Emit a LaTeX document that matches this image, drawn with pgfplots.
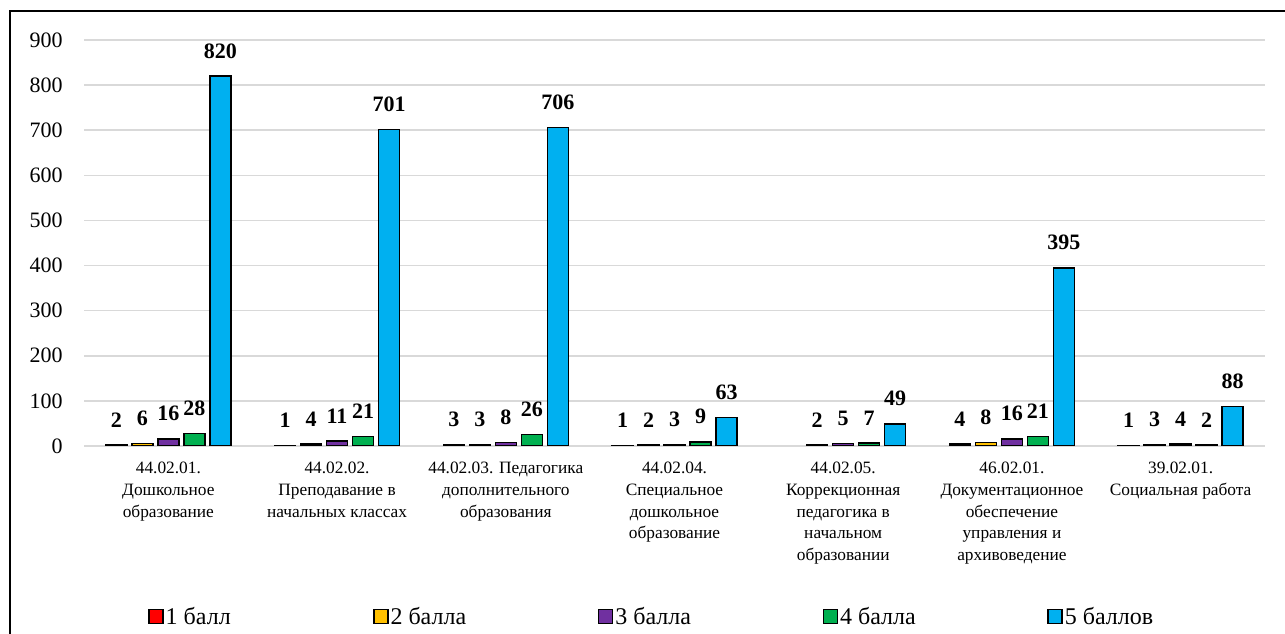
\documentclass[border=0pt]{standalone}
\usepackage{fontspec}
\setmainfont{Liberation Serif}
\usepackage{pgfplots}
\pgfplotsset{compat=1.18}
\definecolor{c1}{HTML}{FF0000}
\definecolor{c2}{HTML}{FFC000}
\definecolor{c3}{HTML}{7030A0}
\definecolor{c4}{HTML}{00B050}
\definecolor{c5}{HTML}{00B0F0}
\definecolor{gridgray}{HTML}{D9D9D9}

\begin{document}
\begin{tikzpicture}
\useasboundingbox (0,0) rectangle (963.75pt,475.5pt);
\draw[line width=1.5pt] (7.5pt,0) -- (7.5pt,467.25pt) -- (963.75pt,467.25pt);
\begin{axis}[
    at={(63pt,141pt)}, anchor=south west,
    scale only axis,
    width=885.75pt, height=304.5pt,
    ybar=3.75pt, bar width=15.75pt,
    xmin=-0.5, xmax=6.5, ymin=0, ymax=900,
    ytick={0,100,...,900},
    xtick={0,...,6},
    xticklabels={
        {44.02.01.\\Дошкольное\\образование},
        {44.02.02.\\Преподавание в\\начальных классах},
        {44.02.03. Педагогика\\дополнительного\\образования},
        {44.02.04.\\Специальное\\дошкольное\\образование},
        {44.02.05.\\Коррекционная\\педагогика в\\начальном\\образовании},
        {46.02.01.\\Документационное\\обеспечение\\управления и\\архивоведение},
        {39.02.01.\\Социальная работа}},
    xticklabel style={align=center, anchor=north, inner sep=0pt, yshift=-12pt,
        font=\fontsize{13}{16.3}\selectfont},
    yticklabel style={anchor=east, inner sep=0pt, xshift=-15.75pt,
        font=\fontsize{16.5}{18}\selectfont},
    /pgf/number format/assume math mode=true,
    major tick length=0pt,
    axis line style={draw=none},
    ymajorgrids,
    grid style={gridgray, line width=1.1pt},
    nodes near coords,
    every node near coord/.append style={font=\bfseries\fontsize{16.5}{18}\selectfont,
        inner sep=0pt, anchor=south, yshift=12.75pt},
    legend columns=5,
    legend style={at={(45pt,-128pt)}, anchor=west, draw=none, fill=none,
        font=\fontsize{18}{19}\selectfont,
        nodes={inner sep=1.5pt},
        /tikz/every even column/.append style={column sep=0pt}},
    legend image code/.code={\draw[#1, draw=black, line width=1.1pt] (0pt,-5.25pt) rectangle (10.5pt,5.25pt);},
]
\addplot[fill=c1, draw=black, line width=1.1pt] coordinates {(0,2) (1,1) (2,3) (3,1) (5,4) (6,1)};
\addlegendentry{\makebox[154pt][l]{1 балл}}
\addplot[fill=c2, draw=black, line width=1.1pt] coordinates {(0,6) (1,4) (2,3) (3,2) (4,2) (5,8) (6,3)};
\addlegendentry{\makebox[154pt][l]{2 балла}}
\addplot[fill=c3, draw=black, line width=1.1pt] coordinates {(0,16) (1,11) (2,8) (3,3) (4,5) (5,16) (6,4)};
\addlegendentry{\makebox[154pt][l]{3 балла}}
\addplot[fill=c4, draw=black, line width=1.1pt] coordinates {(0,28) (1,21) (2,26) (3,9) (4,7) (5,21) (6,2)};
\addlegendentry{\makebox[154pt][l]{4 балла}}
\addplot[fill=c5, draw=black, line width=1.1pt] coordinates {(0,820) (1,701) (2,706) (3,63) (4,49) (5,395) (6,88)};
\addlegendentry{5 баллов}
\end{axis}
\end{tikzpicture}
\end{document}
